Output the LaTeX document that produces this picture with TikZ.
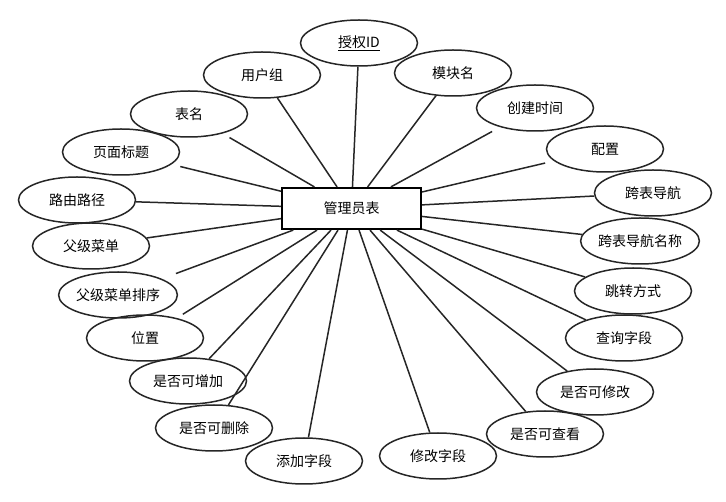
\documentclass[tikz,border=0pt]{standalone}
\usepackage{fontspec}
\setmainfont{Noto Sans CJK SC}
\usetikzlibrary{shapes.geometric}
\begin{document}
\begin{tikzpicture}[x=1pt,y=-1pt,
  attr/.style={draw=black!85,line width=1.5pt,ellipse,minimum width=117pt,minimum height=46pt,inner sep=0pt,font=\fontsize{14}{16}\selectfont},
  ent/.style={draw=black,line width=2.2pt,rectangle,minimum width=139pt,minimum height=41pt,inner sep=0pt,font=\fontsize{14}{16}\selectfont},
  conn/.style={draw=black!85,line width=1.5pt}]
\useasboundingbox (0,0) rectangle (726,502);
\node[ent] (m) at (351.5,208.5) {管理员表};
\node[attr] (a1) at (359,43) {\underline{授权ID}};
\node[attr] (a2) at (262,75) {用户组};
\node[attr] (a3) at (189,114) {表名};
\node[attr] (a4) at (121,152) {页面标题};
\node[attr] (a5) at (77,200) {路由路径};
\node[attr] (a6) at (91,246) {父级菜单};
\node[attr] (a7) at (118,295) {父级菜单排序};
\node[attr] (a8) at (145,338) {位置};
\node[attr] (a9) at (188,381) {是否可增加};
\node[attr] (a10) at (214,428) {是否可删除};
\node[attr] (a11) at (304,461) {添加字段};
\node[attr] (a12) at (438,456) {修改字段};
\node[attr] (a13) at (545,434) {是否可查看};
\node[attr] (a14) at (595,392) {是否可修改};
\node[attr] (a15) at (624,338) {查询字段};
\node[attr] (a16) at (633,291) {跳转方式};
\node[attr] (a17) at (640,241) {跨表导航名称};
\node[attr] (a18) at (653,193) {跨表导航};
\node[attr] (a19) at (605,149) {配置};
\node[attr] (a20) at (535,108) {创建时间};
\node[attr] (a21) at (453,73) {模块名};
\foreach \i/\s in {1/0,2/0,3/8,4/9,5/0,6/0,7/15,8/7,9/0,10/0,11/0,12/0,13/0,14/0,15/0,16/0,17/0,18/0,19/9,20/9,21/0} {\draw[conn,shorten >=\s pt] (m) -- (a\i);}
\end{tikzpicture}
\end{document}
